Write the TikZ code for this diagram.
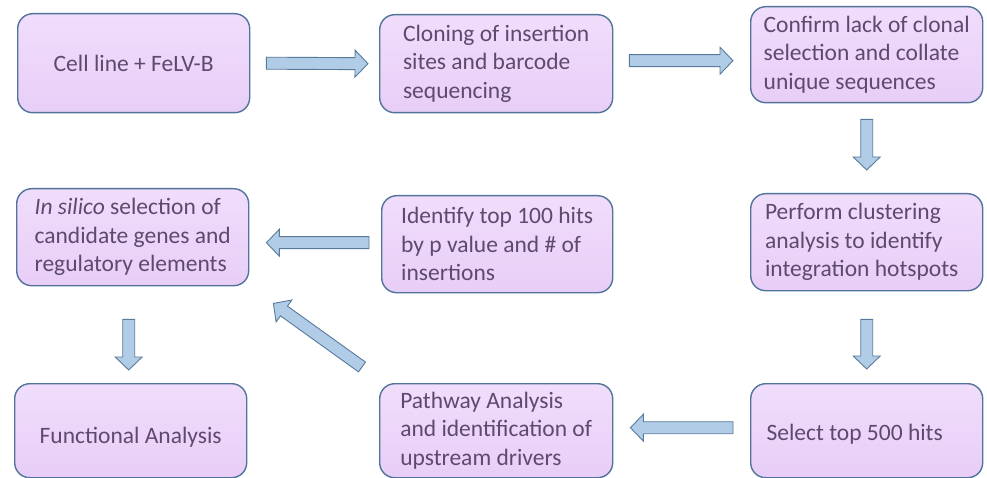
\documentclass[tikz,border=0pt]{standalone}
\usepackage{fontspec}
\setmainfont{Carlito}
\usetikzlibrary{calc}
\definecolor{boxtop}{HTML}{F0DDFB}
\definecolor{boxbot}{HTML}{E8CEF7}
\definecolor{boxedge}{HTML}{52739A}
\definecolor{txt}{HTML}{5E4A6E}
\definecolor{arrfill}{HTML}{B0CCE6}
\definecolor{arredge}{HTML}{5A7A9C}
\tikzset{
  stepbox/.style={draw=boxedge, line width=1.4pt, rounded corners=15pt,
    top color=boxtop, bottom color=boxbot, text=txt, align=left,
    anchor=north west, inner sep=0pt,
    font=\fontsize{23.5}{28.5}\selectfont},
  blockarrow/.style={draw=arredge, line width=0.9pt, fill=arrfill, line join=miter},
}
\newcommand\barrow[2]{%
  \coordinate (hb) at ($(#2)!13pt!(#1)$);
  \draw[blockarrow] ($(#1)!6pt!90:(#2)$) -- ($(hb)!6pt!90:(#2)$) -- ($(hb)!13.5pt!90:(#2)$)
    -- (#2) -- ($(hb)!13.5pt!-90:(#2)$) -- ($(hb)!6pt!-90:(#2)$) -- ($(#1)!6pt!-90:(#2)$) -- cycle;}
\begin{document}
\begin{tikzpicture}[x=1pt,y=-1pt]
\useasboundingbox (0,0) rectangle (987,478);
% boxes
\node[stepbox, minimum width=232pt, minimum height=99pt] (b1) at (17,13) {Cell line + FeLV-B};
\node[stepbox, minimum width=233pt, minimum height=98pt] (b2) at (379,14) {Cloning of insertion\\sites and barcode\\sequencing};
\node[stepbox, minimum width=232pt, minimum height=96pt] (b3) at (750,6) {Confirm lack of clonal\\selection and collate\\unique sequences};
\node[stepbox, minimum width=232pt, minimum height=97pt] (b4) at (16,188) {\textit{In silico} selection of\\candidate genes and\\regulatory elements};
\node[stepbox, minimum width=231pt, minimum height=97pt] (b5) at (381,195) {Identify top 100 hits\\by p value and \# of\\insertions};
\node[stepbox, minimum width=232pt, minimum height=97pt] (b6) at (750,193) {Perform clustering\\analysis to identify\\integration hotspots\hspace*{10pt}};
\node[stepbox, minimum width=232pt, minimum height=94pt, text height=31pt, text depth=5pt] (b7) at (14,383) {Functional Analysis};
\node[stepbox, minimum width=233pt, minimum height=94pt] (b8) at (379,383) {Pathway Analysis\\and identification of\\upstream drivers};
\node[stepbox, minimum width=232pt, minimum height=94pt, text height=25pt, text depth=5pt] (b9) at (750,383) {Select top 500 hits\hspace*{24pt}};
% arrow end points
\coordinate (a1s) at ($(b1.east)+(16,0)$);
\coordinate (a1e) at ($(b2.west)+(-11,0)$);
\coordinate (a2s) at ($(b2.east)+(16,-3)$);
\coordinate (a2e) at ($(b3.west)+(-17,6)$);
\coordinate (a3s) at ($(b3.south)+(0,16)$);
\coordinate (a3e) at ($(b6.north)+(0,-23)$);
\coordinate (a4s) at ($(b6.south)+(0,28)$);
\coordinate (a4e) at ($(b9.north)+(0,-14)$);
\coordinate (a5s) at ($(b9.west)+(-17,-3)$);
\coordinate (a5e) at ($(b8.east)+(17,-3)$);
\coordinate (a6s) at ($(b8.north west)+(-17,-16)$);
\coordinate (a6e) at ($(b4.south east)+(24,17)$);
\coordinate (a7s) at ($(b5.west)+(-12,-1.5)$);
\coordinate (a7e) at ($(b4.east)+(17,5.5)$);
\coordinate (a8s) at ($(b4.south)+(-4,33)$);
\coordinate (a8e) at ($(b7.north)+(-2,-13)$);
\barrow{a1s}{a1e}
\barrow{a2s}{a2e}
\barrow{a3s}{a3e}
\barrow{a4s}{a4e}
\barrow{a5s}{a5e}
\barrow{a6s}{a6e}
\barrow{a7s}{a7e}
\barrow{a8s}{a8e}
\end{tikzpicture}
\end{document}
